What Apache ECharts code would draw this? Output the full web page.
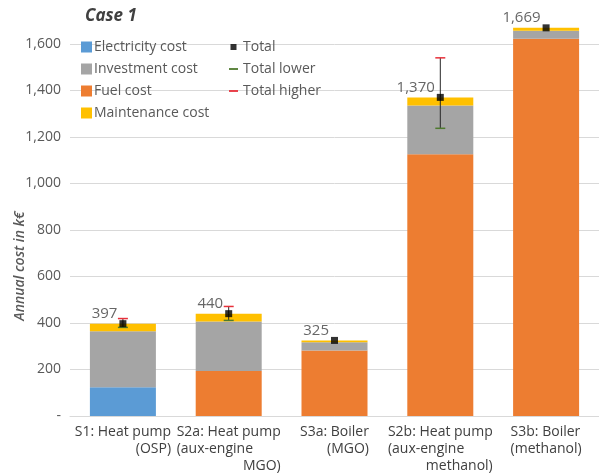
<!DOCTYPE html>
<html>
<head>
<meta charset="utf-8">
<script src="https://cdn.jsdelivr.net/npm/echarts@6/dist/echarts.min.js"></script>
<style>
	html, body { margin: 0; padding: 0; background: #fff; }
	#chart { width: 599px; height: 475px; }
</style>
</head>
<body>
<div id="chart"></div>
<script>
	// scenarios on the x axis
	var categories = [
		'S1: Heat pump|(OSP)',
		'S2a: Heat pump|(aux-engine|MGO)',
		'S3a: Boiler|(MGO)',
		'S2b: Heat pump|(aux-engine|methanol)',
		'S3b: Boiler|(methanol)'
	];
	// stacked cost parts, k€
	var electricityCost = [124, 0, 0, 0, 0];
	var investmentCost = [240, 213, 35, 210, 35];
	var fuelCost = [0, 193, 282, 1125, 1622];
	var maintenanceCost = [33, 34, 8, 35, 12];
	// totals and ranges
	var total = [397, 440, 325, 1370, 1669];
	var totalLower = [381, 411, 325, 1237, 1669];
	var totalHigher = [419, 471, 325, 1540, 1669];
	var yTicks = [0, 200, 400, 600, 800, 1000, 1200, 1400, 1600];

	var chart = echarts.init(document.getElementById('chart'));
	var font = 'Open Sans';

	function errorSeries(name, ends, capColor) {
		return {
			name: name,
			type: 'custom',
			z: 5,
			itemStyle: { color: capColor },
			data: total.map(function (t, i) { return [i, t, ends[i]]; }),
			renderItem: function (params, api) {
				if (api.value(1) === api.value(2)) return null;
				var p0 = api.coord([api.value(0), api.value(1)]);
				var p1 = api.coord([api.value(0), api.value(2)]);
				return {
					type: 'group',
					children: [
						{ type: 'line', shape: { x1: p0[0], y1: p0[1], x2: p1[0], y2: p1[1] }, style: { stroke: '#262626', lineWidth: 1 } },
						{ type: 'line', shape: { x1: p1[0] - 5, y1: p1[1], x2: p1[0] + 5, y2: p1[1] }, style: { stroke: capColor, lineWidth: 1.5 } }
					]
				};
			}
		};
	}

	var option = {
		animation: false,
		textStyle: { fontFamily: font },
		title: {
			text: 'Case 1',
			left: 80,
			top: 3,
			textStyle: { fontSize: 17, fontStyle: 'italic', fontWeight: 'bold', color: '#404040', fontFamily: font }
		},
		graphic: [{
			type: 'text',
			x: 20,
			y: 266,
			rotation: Math.PI / 2,
			style: {
				text: 'Annual cost in k€',
				fill: '#595959',
				font: 'italic 600 14px "Open Sans"',
				align: 'center',
				verticalAlign: 'middle'
			}
		}],
		legend: [{
			orient: 'vertical',
			left: 76,
			top: 35,
			itemWidth: 11,
			itemHeight: 11,
			itemGap: 8,
			icon: 'rect',
			textStyle: { fontSize: 14, color: '#595959', fontFamily: font, padding: [0, 0, 0, -3] },
			data: ['Electricity cost', 'Investment cost', 'Fuel cost', 'Maintenance cost']
		}, {
			orient: 'vertical',
			left: 224,
			top: 35,
			itemWidth: 9,
			itemHeight: 6,
			itemGap: 8,
			textStyle: { fontSize: 14, color: '#595959', fontFamily: font },
			data: [
				{ name: 'Total', icon: 'path://M2,0H8V6H2Z' },
				{ name: 'Total lower', icon: 'path://M0,0H10V2H0Z' },
				{ name: 'Total higher', icon: 'path://M0,0H10V2H0Z' }
			]
		}],
		grid: { left: 70, right: 0, top: 9, bottom: 57 },
		xAxis: {
			type: 'category',
			data: categories,
			axisLine: { lineStyle: { color: '#D9D9D9' } },
			axisTick: { show: false },
			axisLabel: {
				margin: 8,
				interval: 0,
				color: '#404040',
				fontSize: 14,
				lineHeight: 17,
				formatter: function (v) {
					var parts = v.split('|');
					return parts.map(function (p, i) {
						if (i === 0) return '{l|' + p + '}';
						if (parts.length === 3 && i === 1) return '{l|' + p + '}';
						return '{r|' + p + '}';
					}).join('\n');
				},
				rich: {
					l: { align: 'left', fontSize: 14, color: '#404040', lineHeight: 17 },
					r: { align: 'right', fontSize: 14, color: '#404040', lineHeight: 17 }
				}
			}
		},
		yAxis: {
			type: 'value',
			min: 0,
			max: 1750,
			interval: 200,
			axisLine: { show: false },
			axisTick: { show: false },
			splitLine: { showMaxLine: false, lineStyle: { color: '#D9D9D9' } },
			axisLabel: {
				showMaxLabel: false,
				margin: 9,
				fontSize: 14,
				color: '#595959',
				formatter: function (v) {
					if (yTicks.indexOf(v) < 0) return '';
					return v === 0 ? '-' : v.toLocaleString('en-US');
				}
			}
		},
		series: [
			{ name: 'Electricity cost', type: 'bar', stack: 'c', barWidth: 66, itemStyle: { color: '#5B9BD5' }, data: electricityCost },
			{ name: 'Fuel cost', type: 'bar', stack: 'c', itemStyle: { color: '#ED7D31' }, data: fuelCost },
			{ name: 'Investment cost', type: 'bar', stack: 'c', itemStyle: { color: '#A5A5A5' }, data: investmentCost },
			{ name: 'Maintenance cost', type: 'bar', stack: 'c', itemStyle: { color: '#FFC000' }, data: maintenanceCost },
			errorSeries('Total lower', totalLower, '#4E7A2E'),
			errorSeries('Total higher', totalHigher, '#E8303A'),
			{
				name: 'Total',
				type: 'scatter',
				symbol: 'rect',
				symbolSize: 7,
				z: 6,
				itemStyle: { color: '#000' },
				label: {
					show: true,
					position: 'left',
					distance: 2,
					offset: [0, -10],
					fontSize: 15,
					color: '#404040',
					formatter: function (p) { return p.value.toLocaleString('en-US'); }
				},
				data: total
			}
		]
	};
	chart.setOption(option);
</script>
</body>
</html>
